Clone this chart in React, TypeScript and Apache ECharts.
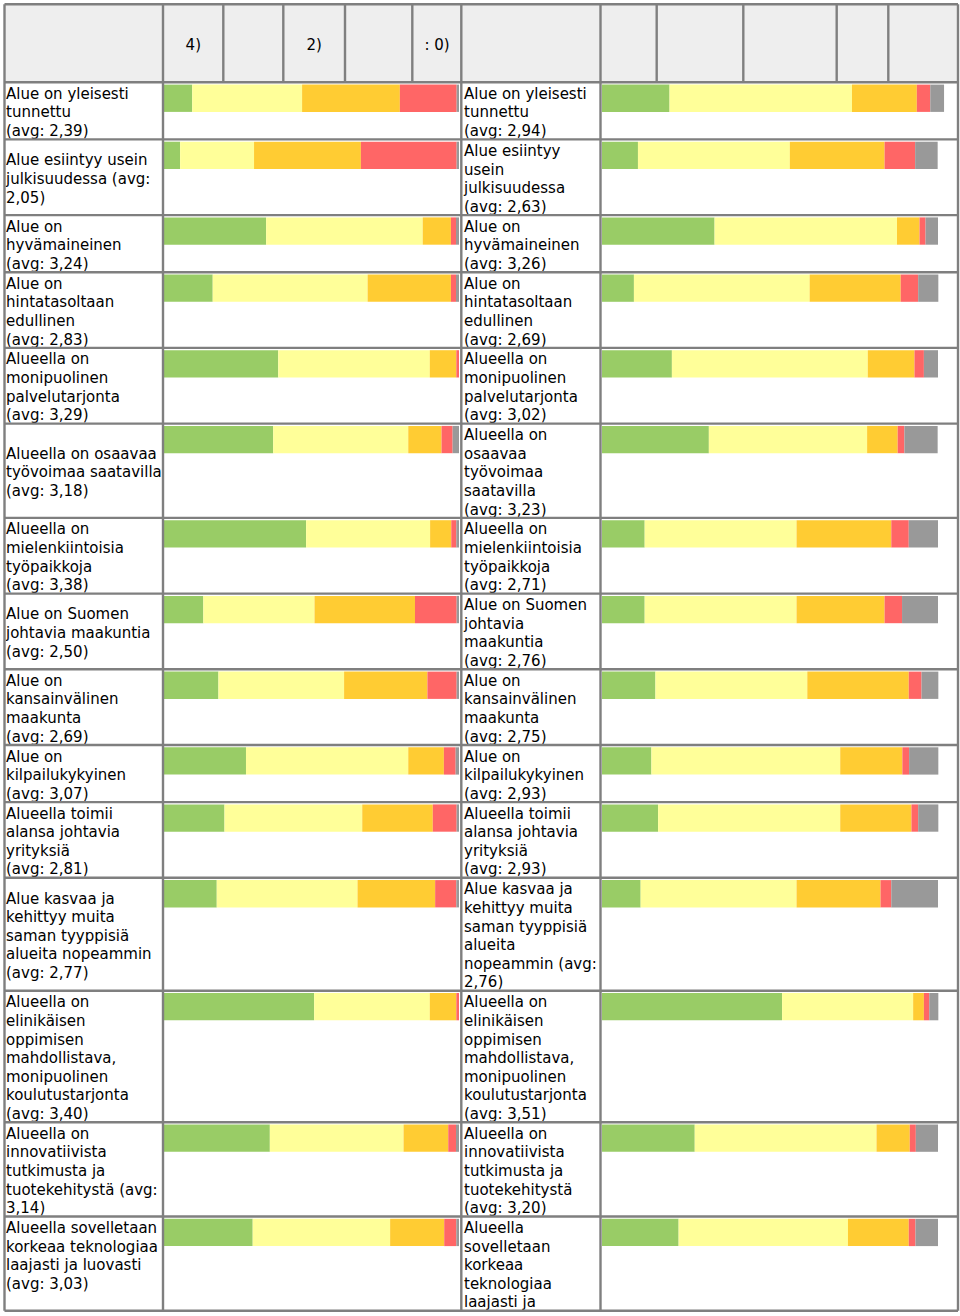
import React, { useEffect, useRef } from "react";
import * as echarts from "echarts";

// ---------- data ----------
const headerLabels = ["4)", "2)", ": 0)"];

const leftLabels = [
  "Alue on yleisesti\ntunnettu\n(avg: 2,39)",
  "Alue esiintyy usein\njulkisuudessa (avg:\n2,05)",
  "Alue on\nhyvämaineinen\n(avg: 3,24)",
  "Alue on\nhintatasoltaan\nedullinen\n(avg: 2,83)",
  "Alueella on\nmonipuolinen\npalvelutarjonta\n(avg: 3,29)",
  "Alueella on osaavaa\ntyövoimaa saatavilla\n(avg: 3,18)",
  "Alueella on\nmielenkiintoisia\ntyöpaikkoja\n(avg: 3,38)",
  "Alue on Suomen\njohtavia maakuntia\n(avg: 2,50)",
  "Alue on\nkansainvälinen\nmaakunta\n(avg: 2,69)",
  "Alue on\nkilpailukykyinen\n(avg: 3,07)",
  "Alueella toimii\nalansa johtavia\nyrityksiä\n(avg: 2,81)",
  "Alue kasvaa ja\nkehittyy muita\nsaman tyyppisiä\nalueita nopeammin\n(avg: 2,77)",
  "Alueella on\nelinikäisen\noppimisen\nmahdollistava,\nmonipuolinen\nkoulutustarjonta\n(avg: 3,40)",
  "Alueella on\ninnovatiivista\ntutkimusta ja\ntuotekehitystä (avg:\n3,14)",
  "Alueella sovelletaan\nkorkeaa teknologiaa\nlaajasti ja luovasti\n(avg: 3,03)",
];

const rightLabels = [
  "Alue on yleisesti\ntunnettu\n(avg: 2,94)",
  "Alue esiintyy\nusein\njulkisuudessa\n(avg: 2,63)",
  "Alue on\nhyvämaineinen\n(avg: 3,26)",
  "Alue on\nhintatasoltaan\nedullinen\n(avg: 2,69)",
  "Alueella on\nmonipuolinen\npalvelutarjonta\n(avg: 3,02)",
  "Alueella on\nosaavaa\ntyövoimaa\nsaatavilla\n(avg: 3,23)",
  "Alueella on\nmielenkiintoisia\ntyöpaikkoja\n(avg: 2,71)",
  "Alue on Suomen\njohtavia\nmaakuntia\n(avg: 2,76)",
  "Alue on\nkansainvälinen\nmaakunta\n(avg: 2,75)",
  "Alue on\nkilpailukykyinen\n(avg: 2,93)",
  "Alueella toimii\nalansa johtavia\nyrityksiä\n(avg: 2,93)",
  "Alue kasvaa ja\nkehittyy muita\nsaman tyyppisiä\nalueita\nnopeammin (avg:\n2,76)",
  "Alueella on\nelinikäisen\noppimisen\nmahdollistava,\nmonipuolinen\nkoulutustarjonta\n(avg: 3,51)",
  "Alueella on\ninnovatiivista\ntutkimusta ja\ntuotekehitystä\n(avg: 3,20)",
  "Alueella\nsovelletaan\nkorkeaa\nteknologiaa\nlaajasti ja",
];

// shares (%) per answer class: 4 (green), 3 (yellow), 2 (orange), 1 (red), 0 / no answer (gray)
const leftGreen = [8.4, 4.8, 30.4, 14.5, 34.0, 32.5, 42.3, 11.7, 16.2, 24.4, 18.0, 15.7, 44.7, 31.5, 26.4];
const leftYellow = [32.7, 22.0, 46.6, 46.1, 45.1, 40.2, 36.9, 33.1, 37.4, 48.3, 41.0, 41.9, 34.4, 39.8, 40.9];
const leftOrange = [29.1, 31.8, 8.4, 24.8, 7.9, 9.9, 6.3, 29.9, 24.8, 10.6, 21.0, 23.1, 7.9, 13.3, 16.1];
const leftRed = [16.9, 28.5, 1.5, 1.5, 1.5, 3.3, 1.5, 12.4, 8.7, 3.5, 7.1, 6.3, 1.5, 2.3, 3.6];
const leftGray = [12.9, 12.9, 13.1, 13.1, 11.5, 14.1, 13.0, 12.9, 12.9, 13.2, 12.9, 13.0, 11.5, 13.1, 13.0];

const rightGreen = [20.1, 10.7, 33.5, 9.5, 20.8, 31.8, 12.7, 12.7, 15.9, 14.7, 16.7, 11.5, 53.6, 27.6, 22.8];
const rightYellow = [54.3, 45.2, 54.3, 52.3, 58.3, 47.1, 45.2, 45.2, 45.2, 56.2, 54.2, 46.4, 39.0, 54.1, 50.4];
const rightOrange = [19.3, 28.2, 6.7, 27.1, 13.9, 9.1, 28.2, 26.2, 30.2, 18.5, 21.2, 25.0, 3.2, 9.9, 18.1];
const rightRed = [4.0, 9.1, 1.8, 5.2, 2.8, 2.0, 5.2, 5.2, 3.8, 2.0, 2.0, 3.2, 1.6, 1.8, 2.0];
const rightGray = [4.1, 6.7, 3.7, 6.0, 4.2, 9.9, 8.7, 10.7, 5.0, 8.7, 6.0, 13.9, 2.7, 6.6, 6.7];

// ---------- style / layout ----------
const COLORS = ["#99cc66", "#ffff99", "#ffcc33", "#ff6666", "#999999"];
const FONT_FAMILY = '"DejaVu Sans", Verdana, sans-serif';
const FONT_SIZE = 15;
const LINE_H = 18.6;
const BORDER = "#7f7f7f";
const BW = 2.4;

export default function App() {
  const ref = useRef<HTMLDivElement>(null);

  useEffect(() => {
    const chart = echarts.init(ref.current!, null, { renderer: "svg" });
    const n = leftLabels.length;
    const lineCounts = leftLabels.map((l, i) =>
      Math.max(l.split("\n").length, rightLabels[i].split("\n").length)
    );
    const rowTops: number[] = [82.3];
    lineCounts.forEach((c, i) => rowTops.push(rowTops[i] + LINE_H * c + 1.3));
    const bottom = rowTops[n];
    const top = 4.3;
    const leftEdge = 4.5;
    const rightEdge = 958;

    const sides = [
      {
        x: 164, width: 295, max: 87.8, labelX: 6,
        labels: leftLabels,
        data: [leftGreen, leftYellow, leftOrange, leftRed, leftGray],
      },
      {
        x: 602, width: 352.8, max: 105, labelX: 464,
        labels: rightLabels,
        data: [rightGreen, rightYellow, rightOrange, rightRed, rightGray],
      },
    ];

    const grid: any[] = [];
    const xAxis: any[] = [];
    const yAxis: any[] = [];
    const series: any[] = [];
    const graphics: any[] = [];

    // header background
    graphics.push({
      type: "rect",
      shape: { x: leftEdge, y: top, width: rightEdge - leftEdge, height: rowTops[0] - top },
      style: { fill: "#eeeeee" },
      z: 0,
    });

    sides.forEach((s) => {
      for (let i = 0; i < n; i++) {
        const gi = grid.length;
        grid.push({ left: s.x, top: rowTops[i] + 2.3, width: s.width, height: 27.3 });
        xAxis.push({
          type: "value", gridIndex: gi, min: 0, max: s.max, show: false,
          splitLine: { show: false },
        });
        yAxis.push({
          type: "category", gridIndex: gi, data: [s.labels[i]], show: false,
        });
        s.data.forEach((arr, k) => {
          series.push({
            type: "bar",
            xAxisIndex: gi,
            yAxisIndex: gi,
            stack: "s" + gi,
            data: [arr[i]],
            barWidth: "100%",
            clip: true,
            silent: true,
            itemStyle: { color: COLORS[k] },
          });
        });
        // label text
        const lines = s.labels[i].split("\n").length;
        const offset = i === n - 1 ? 0 : ((lineCounts[i] - lines) * LINE_H) / 2;
        graphics.push({
          type: "text",
          x: s.labelX,
          y: rowTops[i] + 2.3 + offset,
          z: 5,
          style: {
            text: s.labels[i],
            fill: "#000",
            fontSize: FONT_SIZE,
            fontFamily: FONT_FAMILY,
            lineHeight: LINE_H,
            verticalAlign: "top",
            align: "left",
          },
        });
      }
    });

    // header texts
    const headerCenters = [193.3, 314.2, 437];
    headerLabels.forEach((t, i) => {
      graphics.push({
        type: "text",
        x: headerCenters[i],
        y: 44.5,
        z: 5,
        style: {
          text: t, fill: "#000", fontSize: FONT_SIZE, fontFamily: FONT_FAMILY,
          align: "center", verticalAlign: "middle",
        },
      });
    });

    // horizontal borders
    const hLines = [top, ...rowTops];
    hLines.forEach((y) => {
      graphics.push({
        type: "line", z: 10,
        shape: { x1: leftEdge, y1: y, x2: rightEdge, y2: y },
        style: { stroke: BORDER, lineWidth: BW },
      });
    });
    // full-height vertical borders
    [leftEdge, 163, 461.3, 600.5, rightEdge].forEach((x) => {
      graphics.push({
        type: "line", z: 10,
        shape: { x1: x, y1: top, x2: x, y2: bottom },
        style: { stroke: BORDER, lineWidth: BW },
      });
    });
    // header-only vertical borders
    [223.3, 283.3, 345, 412.3, 656.7, 743.3, 836.7, 888.3].forEach((x) => {
      graphics.push({
        type: "line", z: 10,
        shape: { x1: x, y1: top, x2: x, y2: rowTops[0] },
        style: { stroke: BORDER, lineWidth: BW },
      });
    });

    chart.setOption({
      animation: false,
      backgroundColor: "#ffffff",
      grid,
      xAxis,
      yAxis,
      series,
      graphic: { elements: graphics },
    });

    return () => chart.dispose();
  }, []);

  return (
    <div
      ref={ref}
      style={{ position: "absolute", left: 0, top: 0, width: 960, height: 1316, background: "#fff" }}
    />
  );
}
